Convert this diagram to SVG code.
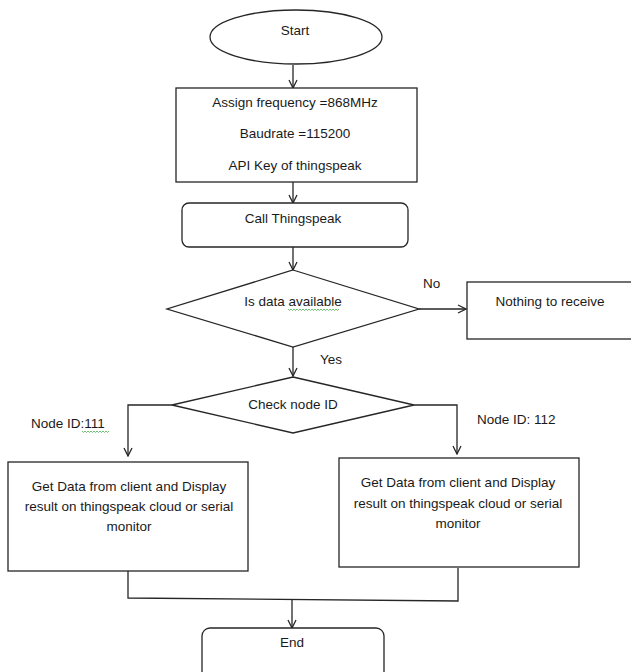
<svg xmlns="http://www.w3.org/2000/svg" width="631" height="672" viewBox="0 0 631 672">
<style>
.s{fill:#fff;stroke:#262626;stroke-width:1.3}
.c{fill:none;stroke:#262626;stroke-width:1.3}
.w{fill:none;stroke:#4caf50;stroke-width:0.8}
text{font-family:"Liberation Sans",Arial,sans-serif;font-size:13.5px;fill:#1a1a1a}
.m{text-anchor:middle}
</style>
<defs>
<marker id="a" viewBox="0 0 10 10" refX="9" refY="5" markerWidth="10" markerHeight="10" markerUnits="userSpaceOnUse" orient="auto">
<path d="M1,1 L9,5 L1,9" fill="none" stroke="#262626" stroke-width="1.3"/>
</marker>
</defs>
<rect width="631" height="672" fill="#fff"/>
<g id="connectors">
<line class="c" x1="293" y1="65" x2="293" y2="88" marker-end="url(#a)"/>
<line class="c" x1="293" y1="182" x2="293" y2="203" marker-end="url(#a)"/>
<line class="c" x1="293" y1="247" x2="293" y2="270" marker-end="url(#a)"/>
<line class="c" x1="419" y1="309" x2="466" y2="309" marker-end="url(#a)"/>
<line class="c" x1="293" y1="347" x2="293" y2="376" marker-end="url(#a)"/>
<polyline class="c" points="172,405 128,405 128,456" marker-end="url(#a)"/>
<polyline class="c" points="414,405 457,405 457,454" marker-end="url(#a)"/>
<polyline class="c" points="128,571 128,598 458,601 458,568"/>
<line class="c" x1="292" y1="600" x2="292" y2="628" marker-end="url(#a)"/>
<text x="423" y="288">No</text>
<text x="320" y="364">Yes</text>
<text x="31" y="428">Node ID:111</text>
<path class="w" d="M82,431 l1.5,1.5 l1.5,-1.5 l1.5,1.5 l1.5,-1.5 l1.5,1.5 l1.5,-1.5 l1.5,1.5 l1.5,-1.5 l1.5,1.5 l1.5,-1.5 l1.5,1.5 l1.5,-1.5 l1.5,1.5 l1.5,-1.5 l1.5,1.5 l1.5,-1.5 l1.5,1.5 l1.5,-1.5"/>
<text x="477" y="424">Node ID: 112</text>
</g>
<g id="start">
<ellipse class="s" cx="296" cy="37" rx="86" ry="27"/>
<text class="m" x="295" y="35">Start</text>
</g>
<g id="init">
<rect class="s" x="176" y="88" width="241" height="94"/>
<text class="m" x="295" y="107">Assign frequency =868MHz</text>
<text class="m" x="295" y="138">Baudrate =115200</text>
<text class="m" x="295" y="170">API Key of thingspeak</text>
</g>
<g id="call">
<rect class="s" x="182" y="203" width="226" height="44" rx="7"/>
<text class="m" x="293" y="223">Call Thingspeak</text>
</g>
<g id="available">
<polygon class="s" points="293,270 419,309 293,347 167,309"/>
<text class="m" x="293" y="306">Is data available</text>
<path class="w" d="M288,309 l1.5,1.5 l1.5,-1.5 l1.5,1.5 l1.5,-1.5 l1.5,1.5 l1.5,-1.5 l1.5,1.5 l1.5,-1.5 l1.5,1.5 l1.5,-1.5 l1.5,1.5 l1.5,-1.5 l1.5,1.5 l1.5,-1.5 l1.5,1.5 l1.5,-1.5 l1.5,1.5 l1.5,-1.5 l1.5,1.5 l1.5,-1.5 l1.5,1.5 l1.5,-1.5 l1.5,1.5 l1.5,-1.5 l1.5,1.5 l1.5,-1.5 l1.5,1.5 l1.5,-1.5 l1.5,1.5 l1.5,-1.5 l1.5,1.5 l1.5,-1.5 l1.5,1.5 l1.5,-1.5"/>
</g>
<g id="nothing">
<rect class="s" x="467" y="282" width="170" height="57"/>
<text class="m" x="550" y="306">Nothing to receive</text>
</g>
<g id="check">
<polygon class="s" points="293,377 414,405 293,433 172,405"/>
<text class="m" x="293" y="409">Check node ID</text>
</g>
<g id="left">
<rect class="s" x="8" y="462" width="240" height="109"/>
<text class="m" x="129" y="491">Get Data from client and Display</text>
<text class="m" x="129" y="511">result on thingspeak cloud or serial</text>
<text class="m" x="129" y="531">monitor</text>
</g>
<g id="right">
<rect class="s" x="339" y="458" width="240" height="109"/>
<text class="m" x="458" y="487">Get Data from client and Display</text>
<text class="m" x="458" y="508">result on thingspeak cloud or serial</text>
<text class="m" x="458" y="528">monitor</text>
</g>
<g id="end">
<rect class="s" x="202" y="628" width="182" height="60" rx="8"/>
<text class="m" x="292" y="647">End</text>
</g>
</svg>
